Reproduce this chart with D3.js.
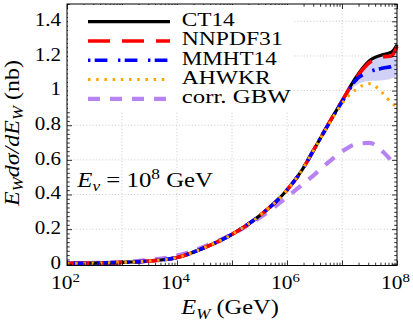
<!DOCTYPE html>
<html><head><meta charset="utf-8">
<script src="https://cdn.jsdelivr.net/npm/d3@7"></script>
<style>body{margin:0;background:#fff}svg{display:block}text{font-family:"Liberation Serif","Times New Roman",serif;fill:#000}</style>
</head><body><svg id="c" width="413" height="323"></svg>
<script>
// Energies E_W (GeV)
const energies = [1e2, 3.16e2, 1e3, 3.16e3, 1e4, 3.16e4, 1e5, 3.16e5, 1e6, 1.78e6, 3.16e6, 5.62e6, 1e7, 1.78e7, 3.16e7, 5.62e7, 7.94e7, 1e8];
const ct14    = [0.002, 0.004, 0.008, 0.016, 0.036, 0.093, 0.170, 0.277, 0.426, 0.530, 0.665, 0.805, 0.940, 1.075, 1.172, 1.208, 1.222, 1.265];
const nnpdf31 = [0.002, 0.004, 0.008, 0.016, 0.036, 0.093, 0.170, 0.277, 0.426, 0.530, 0.665, 0.805, 0.940, 1.070, 1.162, 1.195, 1.200, 1.255];
const mmht14  = [0.002, 0.004, 0.008, 0.016, 0.036, 0.093, 0.170, 0.277, 0.426, 0.530, 0.665, 0.803, 0.935, 1.060, 1.108, 1.130, 1.140, 1.175];
const ahwkr   = [0.002, 0.004, 0.008, 0.016, 0.036, 0.093, 0.170, 0.277, 0.426, 0.530, 0.665, 0.800, 0.925, 1.005, 1.040, 0.982, 0.930, 0.905];
const corrGBW = [0.002, 0.005, 0.010, 0.022, 0.047, 0.100, 0.170, 0.265, 0.385, 0.450, 0.515, 0.585, 0.648, 0.690, 0.698, 0.645, 0.595, 0.560];
// MMHT14 uncertainty band
const bandE  = [5.62e6, 1e7, 1.78e7, 3.16e7, 5.62e7, 7.94e7, 1e8];
const bandLo = [0.800, 0.925, 1.030, 1.055, 1.060, 1.070, 1.085];
const bandHi = [0.810, 0.950, 1.090, 1.185, 1.215, 1.222, 1.260];

const legendLabels = ["CT14", "NNPDF31", "MMHT14", "AHWKR", "corr. GBW"];
const xMajor = [1e2, 1e3, 1e4, 1e5, 1e6, 1e7, 1e8];
const xLabelExp = [2, 4, 6, 8];
const yMajor = [0, 0.2, 0.4, 0.6, 0.8, 1.0, 1.2, 1.4];
const yLabels = ["0", "0.2", "0.4", "0.6", "0.8", "1", "1.2", "1.4"];

const series = [
  {name: legendLabels[4], v: corrGBW, color: "#b782f2", w: 4.2, dash: "12,10"},
  {name: legendLabels[0], v: ct14, color: "#000000", w: 3.2, dash: null},
  {name: legendLabels[1], v: nnpdf31, color: "#ff0000", w: 3.6, dash: "22,12"},
  {name: legendLabels[2], v: mmht14, color: "#0000ff", w: 3.6, dash: "2.4,4.3,12.7,10.6"},
  {name: legendLabels[3], v: ahwkr, color: "#ffa500", w: 3.0, dash: "2.5,5.7"}
];

const L = 67, R = 397, T = 4, B = 265.5;
const svg = d3.select("#c");
const x = d3.scaleLog().domain([1e2, 1e8]).range([L, R]);
const y = d3.scaleLinear().domain([-0.01, 1.5]).range([B, T]);

// grid
const grid = svg.append("g").attr("stroke", "#bdbdbd").attr("stroke-width", 0.8).attr("stroke-dasharray", "1,2.2");
xMajor.slice(1, -1).forEach(e => grid.append("line").attr("x1", x(e)).attr("x2", x(e)).attr("y1", T).attr("y2", B));
yMajor.slice(1).forEach(v => grid.append("line").attr("x1", L).attr("x2", R).attr("y1", y(v)).attr("y2", y(v)));

// band
const area = d3.area().x((d, i) => x(bandE[i])).y0((d, i) => y(bandLo[i])).y1((d, i) => y(bandHi[i])).curve(d3.curveMonotoneX);
svg.append("path").attr("d", area(bandE)).attr("fill", "#c9c9f7").attr("opacity", 0.85);

// lines
const line = d3.line().x((d, i) => x(energies[i])).y(d => y(d)).curve(d3.curveMonotoneX);
const plot = svg.append("g");
series.forEach(s => {
  plot.append("path").attr("d", line(s.v)).attr("fill", "none").attr("stroke", s.color)
    .attr("stroke-width", s.w).attr("stroke-dasharray", s.dash);
});

// minor ticks
const xMinor = [];
for (let d = 2; d < 8; d++) for (let m = 2; m <= 9; m++) xMinor.push(m * Math.pow(10, d));
const yMinor = d3.range(0, 1.5001, 0.025).filter(v => Math.abs(v / 0.2 - Math.round(v / 0.2)) > 1e-6);

function axes(gen, tx, ty, vals, size) {
  const g = svg.append("g").attr("transform", `translate(${tx},${ty})`).call(gen.tickValues(vals).tickSize(size).tickFormat(""));
  g.select(".domain").remove();
  g.selectAll("line").attr("stroke", "#000").attr("stroke-width", 0.8);
  return g;
}
axes(d3.axisBottom(x), 0, B, xMajor, -5);
axes(d3.axisBottom(x), 0, B, xMinor, -2.8);
axes(d3.axisTop(x), 0, T, xMajor, -5);
axes(d3.axisTop(x), 0, T, xMinor, -2.8);
axes(d3.axisLeft(y), L, 0, yMajor, -5);
axes(d3.axisLeft(y), L, 0, yMinor, -2.8);
axes(d3.axisRight(y), R, 0, yMajor, -5);
axes(d3.axisRight(y), R, 0, yMinor, -2.8);

svg.append("rect").attr("x", L).attr("y", T).attr("width", R - L).attr("height", B - T).attr("fill", "none").attr("stroke", "#000").attr("stroke-width", 1);

// x tick labels
xLabelExp.forEach(p => {
  const t = svg.append("text").attr("transform", `translate(${x(Math.pow(10, p)) - 1.5},289) scale(1.1,1)`).attr("text-anchor", "middle").attr("font-size", 19.5);
  t.append("tspan").text("10");
  t.append("tspan").attr("font-size", 13.5).attr("dy", -7.5).text(p);
});
// y tick labels
yMajor.forEach((v, i) => {
  svg.append("text").attr("transform", `translate(61,${y(v) + 4.8}) scale(1.08,1)`).attr("text-anchor", "end").attr("font-size", 19.5).text(yLabels[i]);
});

// axis titles
function rich(t, parts) {
  parts.forEach(p => {
    const s = t.append("tspan").text(p.t);
    if (p.i) s.attr("font-style", "italic");
    if (p.sub) s.attr("font-size", 14).attr("dy", 4.5);
    if (p.sup) s.attr("font-size", 14).attr("dy", -8);
    if (p.back) s.attr("dy", p.back);
  });
}
const yl = svg.append("text").attr("transform", "translate(18.5,133) rotate(-90) scale(1.2,1)").attr("text-anchor", "middle").attr("font-size", 20);
rich(yl, [{t: "E", i: 1}, {t: "W", i: 1, sub: 1}, {t: "d", i: 1, back: -4.5}, {t: "σ/d", i: 1}, {t: "E", i: 1}, {t: "W", i: 1, sub: 1}, {t: " (nb)", back: -4.5}]);
const xl = svg.append("text").attr("transform", "translate(230,314) scale(1.22,1)").attr("text-anchor", "middle").attr("font-size", 20);
rich(xl, [{t: "E", i: 1}, {t: "W", i: 1, sub: 1}, {t: " (GeV)", back: -4.5}]);
const an = svg.append("text").attr("transform", "translate(77.3,186.7) scale(1.24,1)").attr("font-size", 20);
rich(an, [{t: "E", i: 1}, {t: "ν", i: 1, sub: 1}, {t: " = 10", back: -4.5}, {t: "8", sup: 1}, {t: " GeV", back: 8}]);

// legend
svg.append("rect").attr("x", L + 1).attr("y", T + 1).attr("width", 226).attr("height", 107).attr("fill", "#fff");
const order = [1, 2, 3, 4, 0];
const legW = [53, 101, 95, 89, 109];
order.forEach((si, r) => {
  const s = series[si];
  const yy = 21.7 + r * 19.3;
  svg.append("line").attr("x1", 88).attr("x2", 170).attr("y1", yy).attr("y2", yy)
    .attr("stroke", s.color).attr("stroke-width", s.w).attr("stroke-dasharray", s.dash);
  svg.append("text").attr("x", 181.7).attr("y", yy + 4.2).attr("font-size", 19.5)
    .attr("textLength", legW[r]).attr("lengthAdjust", "spacingAndGlyphs").text(s.name);
});
</script></body></html>
